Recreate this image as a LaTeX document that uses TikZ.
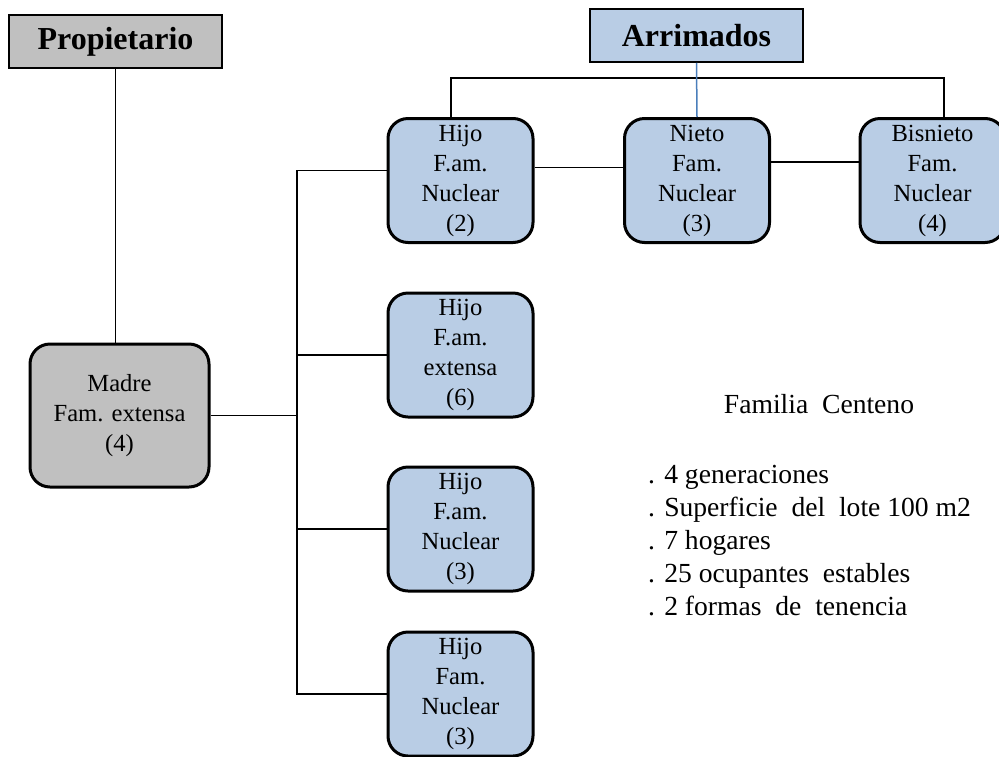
\documentclass[tikz,border=0pt]{standalone}
\usepackage{fontspec}
\setmainfont{Liberation Serif}
\usepackage{xcolor}
\usepackage{tikz}
\usetikzlibrary{positioning,calc}
\definecolor{gris}{HTML}{C0C0C0}
\definecolor{celeste}{HTML}{B9CDE5}
\definecolor{azul}{HTML}{4A7EBB}

\begin{document}
\begin{tikzpicture}[x=1pt,y=-1pt,
  titulo/.style={draw,line width=1.5pt,minimum width=213pt,minimum height=53pt,
                 inner sep=0pt,font=\fontsize{32}{36}\selectfont\bfseries},
  fam/.style={draw,line width=3pt,rounded corners=20pt,fill=celeste,
              minimum width=145pt,minimum height=124pt,inner sep=0pt,
              align=center,font=\fontsize{24.6}{30}\selectfont},
  lin/.style={line width=1.5pt},
  txt/.style={inner sep=0pt,font=\fontsize{27.6}{33}\selectfont}
]
\clip (0,0) rectangle (999,756);
\fill[white] (0,0) rectangle (999,756);
% encabezados
\node[titulo,fill=gris] (prop) at (115.5,41.5) {Propietario};
\node[titulo,fill=celeste] (arr) at (696.5,35.5) {Arrimados};
% madre y descendencia
\node[fam,fill=gris,minimum width=179pt,minimum height=143pt] (madre) at (119.5,415.5)
  {Madre\\Fam. extensa\\(4)};
\node[fam] (h1) at (460.5,180.5) {Hijo\\F.am.\\Nuclear\\(2)};
\node[fam] (h2) at (460.5,355) {Hijo\\F.am.\\extensa\\(6)};
\node[fam] (h3) at (460.5,529) {Hijo\\F.am.\\Nuclear\\(3)};
\node[fam] (h4) at (460.5,694) {Hijo\\Fam.\\Nuclear\\(3)};
\node[fam] (nieto) at (697,180.5) {Nieto\\Fam.\\Nuclear\\(3)};
\node[fam] (bis) at (932.5,180.5) {Bisnieto\\Fam.\\Nuclear\\(4)};
% conectores
\coordinate (tr) at (297,415.5);
\draw[lin] (prop.south) -- (prop.south |- madre.north);
\draw[lin] (madre.east) -- (tr);
\draw[lin] ([yshift=10pt]h1.west) -| (tr) |- (h4.west);
\draw[lin] (h2.west) -- (h2.west -| tr);
\draw[lin] (h3.west) -- (h3.west -| tr);
\draw[lin] ([xshift=-9.5pt]h1.north) |- ($(arr.south)+(0,15)$) -| ([xshift=11.5pt]bis.north);
\draw[lin,draw=azul] (arr.south) -- (nieto.north);
\draw[lin] ([yshift=13pt]h1.east) -- ([yshift=13pt]nieto.west);
\draw[lin] ([yshift=18.5pt]nieto.east) -- ([yshift=18.5pt]bis.west);
% datos
\node[txt,anchor=base] (flia) at (819,413) {Familia\ \ Centeno};
\foreach \t [count=\i] in {. 4 generaciones,. Superficie\ \ del\ \ lote\ 100\ m2,. 7 hogares,. 25 ocupantes\ \ estables,. 2 formas\ \ de\ \ tenencia}
  \node[txt,anchor=base west] (dato\i) at (648,{483+33*(\i-1)}) {\t};
\end{tikzpicture}
\end{document}
